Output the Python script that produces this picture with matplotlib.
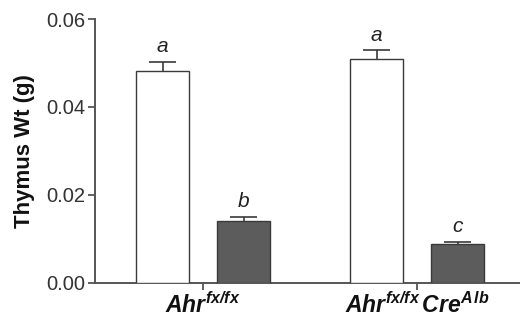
import numpy as np
import matplotlib
matplotlib.use("Agg")
import matplotlib.pyplot as plt

plt.rcParams['font.family'] = ['Liberation Sans', 'DejaVu Sans']
plt.rcParams['mathtext.fontset'] = 'custom'
plt.rcParams['mathtext.rm'] = 'Liberation Sans'
plt.rcParams['mathtext.it'] = 'Liberation Sans:italic'
plt.rcParams['mathtext.bf'] = 'Liberation Sans:bold'
plt.rcParams['mathtext.bfit'] = 'Liberation Sans:bold:italic'

# data
groups = [r'$\mathbfit{Ahr}^{\mathbfit{fx/fx}}$',
          r'$\mathbfit{Ahr}^{\mathbfit{fx/fx}}\,\mathbfit{Cre}^{\mathbfit{A\,lb}}$']
ctrl_vals = [0.0482, 0.0508]
ctrl_err = [0.0020, 0.0021]
trt_vals = [0.0141, 0.0088]
trt_err = [0.0009, 0.0005]
ctrl_letters = ['a', 'a']
trt_letters = ['b', 'c']

edge = '#3a3a3a'
axcol = '#555555'

fig = plt.figure(figsize=(5.2, 3.26), dpi=100)
ax = fig.add_axes([0.1827, 0.1334, 0.8173, 0.8083])

x = np.arange(len(groups))
off = 0.189
w = 0.248
cap = 0.064

for xs, vals, errs, fc in [(x - off, ctrl_vals, ctrl_err, 'white'),
                           (x + off, trt_vals, trt_err, '#5c5c5c')]:
    vals = np.array(vals)
    tops = vals + np.array(errs)
    # upper error bars only
    ax.vlines(xs, vals, tops, color=edge, lw=1.2, zorder=2)
    ax.hlines(tops, xs - cap, xs + cap, color=edge, lw=1.2, zorder=2)
    ax.bar(xs, vals, width=w, color=fc, edgecolor=edge, linewidth=1.0, zorder=3)

for xi, v, e, t in zip(x - off, ctrl_vals, ctrl_err, ctrl_letters):
    ax.annotate(t, (xi, v + e), xytext=(0, 4), textcoords='offset points',
                ha='center', va='bottom', fontsize=15, style='italic', color='#222222')
for xi, v, e, t in zip(x + off, trt_vals, trt_err, trt_letters):
    ax.annotate(t, (xi, v + e), xytext=(0, 4), textcoords='offset points',
                ha='center', va='bottom', fontsize=15, style='italic', color='#222222')

ax.set_xlim(-0.505, 1.481)
ax.set_ylim(0, 0.06)
ax.set_yticks([0.00, 0.02, 0.04, 0.06])
ax.set_yticklabels(['0.00', '0.02', '0.04', '0.06'])
ax.set_xticks(x)
ax.set_xticklabels(groups, fontsize=16.5, color='#111111')
ax.tick_params(axis='y', labelsize=14.5, labelcolor='#333333', color=axcol,
               length=5, width=1.3, pad=2)
ax.tick_params(axis='x', color=axcol, length=5, width=1.3, pad=2)
ax.set_ylabel('Thymus Wt (g)', fontsize=16, fontweight='bold', color='#111111', labelpad=8)

for s in ['top', 'right']:
    ax.spines[s].set_visible(False)
for s in ['left', 'bottom']:
    ax.spines[s].set_color(axcol)
    ax.spines[s].set_linewidth(1.4)

fig.savefig('out.png', dpi=100)
